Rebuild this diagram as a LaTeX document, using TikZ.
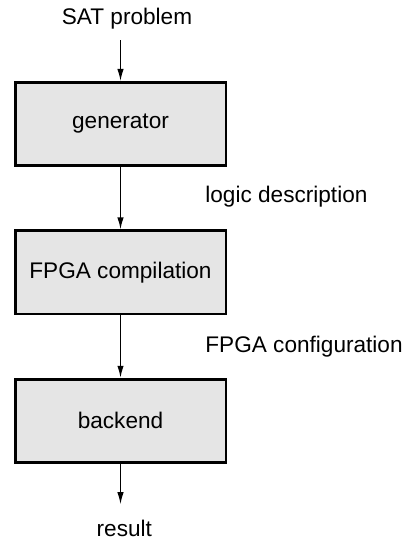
\documentclass[tikz,border=0pt]{standalone}
\usepackage{fontspec}
\setmainfont{Liberation Sans}
\usetikzlibrary{positioning,arrows.meta}
\definecolor{boxgray}{gray}{0.9}

\begin{document}
\begin{tikzpicture}[
  x=0.5pt, y=-0.5pt,
  font=\fontsize{11.3}{13.5}\selectfont,
  node distance=31.2pt,
  stage/.style={draw, line width=1.35pt, fill=boxgray, minimum width=105.35pt, minimum height=41.65pt, inner sep=0pt},
  arr/.style={-{Latex[length=6pt,width=3.2pt]}, line width=0.65pt},
  io/.style={inner sep=0pt}
]
\useasboundingbox (0,0) rectangle (409,539);

% stages
\node[stage] (gen) at (120.5,124) {generator};
\node[stage, below=of gen] (comp) {FPGA compilation};
\node[stage, below=of comp] (back) {backend};

% input, output and data labels
\node[io, anchor=base] (sat) at (127,24.3) {SAT problem};
\node[io, anchor=base] (res) at (124.3,536) {result};
\node[io, anchor=base west] (logic) at (205,202.7) {logic description};
\node[io, anchor=base west] (config) at (205,352.7) {FPGA configuration};

% arrows
\draw[arr, shorten <=5.5pt] (sat.south -| gen.north) -- (gen.north);
\draw[arr] (gen) -- (comp);
\draw[arr] (comp) -- (back);
\draw[arr, shorten >=7.5pt] (back.south) -- (res.north -| back.south);

\end{tikzpicture}
\end{document}
